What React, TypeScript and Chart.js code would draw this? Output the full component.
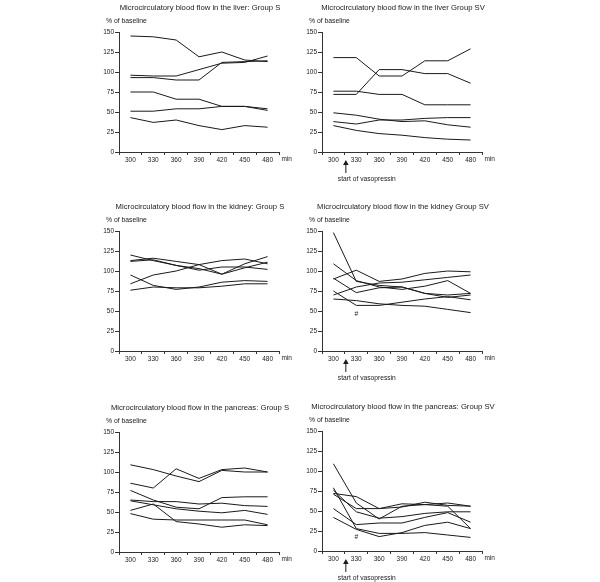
import React, { useEffect, useRef } from "react";
import { Chart, registerables } from "chart.js";

Chart.register(...registerables);

const times = ["300", "330", "360", "390", "420", "450", "480"];
const yTickValues = [0, 25, 50, 75, 100, 125, 150];

const liverS = [
  [145, 144, 140, 119, 125, 115, 113],
  [96, 95, 95, 103, 111, 112, 120],
  [93, 93, 90, 90, 112, 113, 114],
  [75, 75, 66, 66, 57, 57, 52],
  [51, 51, 54, 54, 57, 57, 54],
  [43, 37, 40, 33, 28, 33, 31],
];

const liverSV = [
  [118, 118, 95, 95, 114, 114, 129],
  [72, 72, 103, 103, 98, 98, 86],
  [76, 76, 72, 72, 59, 59, 59],
  [49, 46, 41, 38, 39, 34, 31],
  [38, 35, 40, 40, 42, 43, 43],
  [33, 27, 23, 21, 18, 16, 15],
];

const kidneyS = [
  [120, 113, 107, 103, 96, 109, 118],
  [113, 116, 112, 108, 96, 104, 111],
  [112, 114, 107, 101, 105, 105, 102],
  [84, 95, 100, 108, 113, 115, 109],
  [95, 82, 77, 80, 86, 88, 87],
  [76, 80, 79, 79, 81, 84, 84],
];

const kidneySV = [
  [148, 87, 82, 80, 72, 70, 72],
  [109, 88, 80, 77, 81, 88, 72],
  [90, 101, 87, 90, 97, 100, 99],
  [70, 80, 85, 86, 89, 92, 95],
  [91, 73, 79, 80, 72, 67, 70],
  [75, 57, 57, 61, 65, 68, 64],
  [65, 63, 59, 57, 56, 52, 48],
];

const pancreasS = [
  [109, 103, 95, 88, 102, 100, 100],
  [86, 80, 104, 92, 103, 105, 100],
  [77, 65, 56, 54, 68, 69, 69],
  [65, 63, 63, 60, 61, 58, 57],
  [64, 59, 54, 51, 49, 52, 47],
  [52, 60, 38, 35, 31, 34, 33],
  [48, 41, 40, 40, 40, 40, 34],
];

const pancreasSV = [
  [109, 60, 40, 56, 58, 56, 28],
  [72, 68, 53, 59, 58, 60, 56],
  [71, 53, 53, 55, 61, 57, 56],
  [76, 49, 41, 43, 47, 49, 49],
  [79, 28, 22, 22, 23, 20, 17],
  [53, 33, 35, 35, 42, 48, 36],
  [42, 27, 18, 23, 32, 36, 28],
];

const titles = [
  "Microcirculatory blood flow in the liver: Group S",
  "Microcirculatory blood flow in the liver Group SV",
  "Microcirculatory blood flow in the kidney: Group S",
  "Microcirculatory blood flow in the kidney Group SV",
  "Microcirculatory blood flow in the pancreas: Group S",
  "Microcirculatory blood flow in the pancreas: Group SV",
];

const yAxisLabel = "% of baseline";
const xUnit = "min";
const vasoText = "start of vasopressin";
// significance marks: [category index, value]
const kidneyHash = [1, 46];
const pancreasHash = [1, 17];

const FONT = "'Liberation Sans', Arial, Helvetica, sans-serif";
const INK = "#1a1a1a";

type PanelProps = {
  title: string;
  series: number[][];
  left: number;
  top: number;
  vaso: boolean;
  hash?: number[];
};

const CW = 250;
const CH = 202;
const AXW = 60;
const PADTOP = 32;
const PLOTW = 160;
const XAXH = 20;

function Panel({ title, series, left, top, vaso, hash }: PanelProps) {
  const ref = useRef<HTMLCanvasElement>(null);
  useEffect(() => {
    if (!ref.current) return;
    const annot = {
      id: "annot",
      afterDraw(chart: any) {
        const ctx = chart.ctx;
        const a = chart.chartArea;
        const xs = chart.scales.x;
        const ys = chart.scales.y;
        ctx.save();
        ctx.fillStyle = INK;
        ctx.textBaseline = "middle";
        ctx.font = `7.7px ${FONT}`;
        ctx.textAlign = "center";
        ctx.fillText(title, (a.left + a.right) / 2 + 1, a.top - 24);
        ctx.font = `6.8px ${FONT}`;
        ctx.textAlign = "left";
        ctx.fillText(yAxisLabel, a.left - 13, a.top - 11);
        ctx.font = `6.5px ${FONT}`;
        ctx.fillText(xUnit, a.right + 2.5, a.bottom + 7.5);
        if (vaso) {
          const x = (xs.getPixelForValue(0) + xs.getPixelForValue(1)) / 2 + 1;
          ctx.strokeStyle = INK;
          ctx.lineWidth = 1;
          ctx.beginPath();
          ctx.moveTo(x, a.bottom + 12);
          ctx.lineTo(x, a.bottom + 21);
          ctx.stroke();
          ctx.beginPath();
          ctx.moveTo(x, a.bottom + 8);
          ctx.lineTo(x - 2.8, a.bottom + 13);
          ctx.lineTo(x + 2.8, a.bottom + 13);
          ctx.closePath();
          ctx.fill();
          ctx.font = `6.7px ${FONT}`;
          ctx.fillText(vasoText, x - 8, a.bottom + 27.5);
        }
        if (hash) {
          ctx.font = `italic 6.5px ${FONT}`;
          ctx.textAlign = "center";
          ctx.fillText("#", xs.getPixelForValue(hash[0]), ys.getPixelForValue(hash[1]));
        }
        ctx.restore();
      },
    };
    const chart = new Chart(ref.current, {
      type: "line",
      data: {
        labels: times,
        datasets: series.map((s) => ({
          data: s,
          borderColor: INK,
          borderWidth: 1,
          pointRadius: 0,
          tension: 0,
          fill: false,
        })),
      },
      options: {
        animation: false,
        responsive: false,
        devicePixelRatio: 1,
        layout: { padding: { left: 0, top: PADTOP, right: CW - AXW - PLOTW, bottom: CH - PADTOP - 120 - XAXH } },
        plugins: { legend: { display: false }, tooltip: { enabled: false }, title: { display: false } },
        scales: {
          x: {
            type: "category",
            offset: true,
            afterFit: (s: any) => {
              s.height = XAXH;
            },
            grid: { offset: true, drawOnChartArea: false, drawTicks: true, tickLength: 3, color: "#333", lineWidth: 1 },
            border: { display: true, color: "#333", width: 1 },
            ticks: { color: INK, font: { size: 6.5, family: FONT }, padding: 1, autoSkip: false, maxRotation: 0 },
          },
          y: {
            min: 0,
            max: 150,
            afterFit: (s: any) => {
              s.width = AXW;
            },
            afterBuildTicks: (s: any) => {
              s.ticks = yTickValues.map((v) => ({ value: v }));
            },
            grid: { drawOnChartArea: false, drawTicks: true, tickLength: 4, color: "#333", lineWidth: 1 },
            border: { display: true, color: "#333", width: 1 },
            ticks: { color: INK, font: { size: 6.5, family: FONT }, padding: 1 },
          },
        },
      },
      plugins: [annot],
    });
    return () => chart.destroy();
  }, []);
  return (
    <canvas
      ref={ref}
      width={CW}
      height={CH}
      style={{ position: "absolute", left: left - AXW, top: top - PADTOP, width: CW, height: CH }}
    />
  );
}

const panels: PanelProps[] = [
  { title: titles[0], series: liverS, left: 119, top: 32, vaso: false },
  { title: titles[1], series: liverSV, left: 322, top: 32, vaso: true },
  { title: titles[2], series: kidneyS, left: 119, top: 231, vaso: false },
  { title: titles[3], series: kidneySV, left: 322, top: 231, vaso: true, hash: kidneyHash },
  { title: titles[4], series: pancreasS, left: 119, top: 432, vaso: false },
  { title: titles[5], series: pancreasSV, left: 322, top: 431, vaso: true, hash: pancreasHash },
];

export default function App() {
  return (
    <div
      style={{
        position: "fixed",
        left: 0,
        top: 0,
        width: 600,
        height: 582,
        background: "#fff",
        overflow: "hidden",
      }}
    >
      {panels.map((p, i) => (
        <Panel key={i} {...p} />
      ))}
    </div>
  );
}
